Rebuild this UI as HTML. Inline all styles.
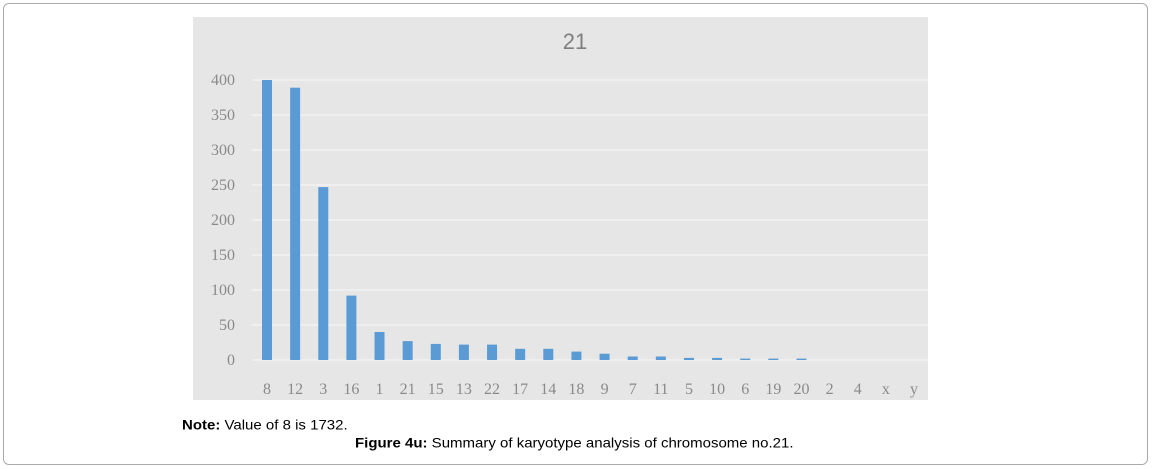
<!DOCTYPE html>
<html><head><meta charset="utf-8"><style>
body{margin:0;background:#fff;width:1152px;height:469px;overflow:hidden;font-family:"Liberation Sans",Arial,sans-serif}
#frame{position:absolute;left:3px;top:3px;width:1143px;height:460px;border:1px solid #aaa;border-radius:6px}
.t{position:absolute;font-size:15px;color:#000;white-space:nowrap;transform-origin:0 0;transform:scaleY(0.9)}
</style></head><body>
<div id="frame"></div>
<svg id="chart" width="1152" height="469" style="position:absolute;left:0;top:0"></svg>
<div class="t" style="left:182px;top:418px"><b>Note:</b> Value of 8 is 1732.</div>
<div class="t" style="left:355px;top:436px"><b>Figure 4u:</b> Summary of karyotype analysis of chromosome no.21.</div>
<script>
const categories=["8","12","3","16","1","21","15","13","22","17","14","18","9","7","11","5","10","6","19","20","2","4","x","y"];
const values=[400,389,247,92,40,27,23,22,22,16,16,12,9,5,5,3,3,2,2,2,0,0,0,0];
const yTicks=[0,50,100,150,200,250,300,350,400];
const NS="http://www.w3.org/2000/svg";
const svg=document.getElementById('chart');
function mk(t,a){const e=document.createElementNS(NS,t);for(const k in a)e.setAttribute(k,a[k]);svg.appendChild(e);return e;}
const bg=mk('rect',{x:193,y:17,width:735,height:383,fill:'#e6e6e6'});


const y0=360,y1=80,vmax=400;
const ys=v=>y0-(v/vmax)*(y0-y1);
const x0=267,step=(914-267)/(categories.length-1);
const xs=i=>x0+i*step;
const title=mk('text',{x:575,y:49,'font-size':22,fill:'#7f7f7f','text-anchor':'middle','font-family':'Liberation Sans, sans-serif'});
title.textContent='21';


yTicks.forEach(v=>{
  const g=mk('line',{x1:252,x2:928,y1:ys(v),y2:ys(v),stroke:'#f2f2f2','stroke-width':1.5});
  
  
  const t=mk('text',{x:235,y:ys(v)+5,'font-size':16,fill:'#8a8a8a','text-anchor':'end','font-family':'Liberation Serif, serif'});
  t.textContent=v;
  
  
});
categories.forEach((c,i)=>{
  const h=y0-ys(values[i]);
  if(values[i]>0){
    const b=mk('rect',{x:xs(i)-5,y:ys(values[i]),width:10,height:h,fill:'#5b9bd5'});
    
    
  }
  const t=mk('text',{x:xs(i),y:394,'font-size':16,fill:'#8a8a8a','text-anchor':'middle','font-family':'Liberation Serif, serif'});
  t.textContent=c;
  
  
});
</script>
</body></html>
